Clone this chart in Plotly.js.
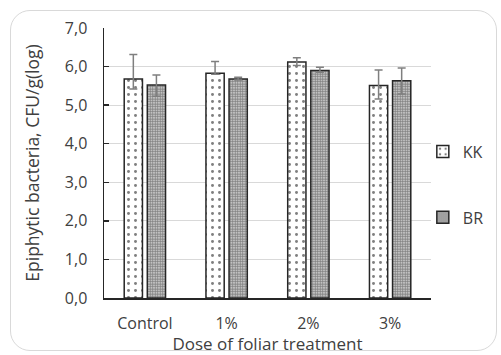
<!DOCTYPE html>
<html>
<head>
<meta charset="utf-8">
<script src="https://cdn.plot.ly/plotly-3.0.1.min.js"></script>
<style>
html,body{margin:0;padding:0;background:#fff;}
#frame{position:absolute;left:10px;top:10px;width:487px;height:341px;border:1px solid #d9d9d9;border-radius:20px;box-sizing:border-box;}
#chart{position:absolute;left:0;top:0;width:501px;height:355px;}
</style>
</head>
<body>
<div id="frame"></div>
<div id="chart"></div>
<script>
const categories = ["Control", "1%", "2%", "3%"];
const seriesNames = ["KK", "BR"];
const kkValues = [5.68, 5.83, 6.12, 5.51];
const kkErrPlus = [0.63, 0.30, 0.11, 0.40];
const kkErrMinus = [0.26, 0.03, 0.09, 0.35];
const brValues = [5.52, 5.68, 5.90, 5.63];
const brErrPlus = [0.26, 0.04, 0.08, 0.33];
const brErrMinus = [0.29, 0.03, 0.05, 0.34];
const yTicks = [0, 1, 2, 3, 4, 5, 6, 7];

const FONT = "Open Sans, sans-serif";
const TXT = "#404040";

function mkTrace(name, y, ep, em, pattern, group) {
  return {
    type: "bar", name: name, x: categories, y: y,
    legendgroup: group,
    marker: {
      color: "#ffffff",
      line: {color: "#262626", width: 1.5},
      pattern: pattern
    },
    error_y: {type: "data", symmetric: false, array: ep, arrayminus: em,
              color: "#7f7f7f", thickness: 1.5, width: 4},
    hoverinfo: "skip"
  };
}

const traces = [
  mkTrace(seriesNames[0], kkValues, kkErrPlus, kkErrMinus,
    {shape: ".", fgcolor: "#000000", bgcolor: "#ffffff", size: 7, solidity: 0.14, fillmode: "overlay"}, "g1"),
  mkTrace(seriesNames[1], brValues, brErrPlus, brErrMinus,
    {shape: ".", fgcolor: "#000000", bgcolor: "#ffffff", size: 2.5, solidity: 0.75, fillmode: "overlay"}, "g2")
];

const layout = {
  width: 501, height: 355,
  margin: {l: 104, r: 63, t: 28, b: 57, pad: 0},
  paper_bgcolor: "rgba(0,0,0,0)",
  plot_bgcolor: "rgba(0,0,0,0)",
  separators: ", ",
  barmode: "group",
  bargap: 0.435,
  bargroupgap: 0.21,
  font: {family: FONT, color: TXT, size: 16},
  showlegend: true,
  legend: {x: 0.975, xanchor: "left", y: 0.42, yanchor: "middle",
           traceorder: "grouped", tracegroupgap: 42,
           font: {family: FONT, size: 16, color: TXT},
           itemwidth: 30, bgcolor: "rgba(0,0,0,0)"},
  xaxis: {
    type: "category",
    showline: true, linecolor: "#262626", linewidth: 1.5,
    ticks: "", showgrid: false,
    ticklabelstandoff: 10,
    tickfont: {family: FONT, size: 16, color: TXT},
    title: {text: "Dose of foliar treatment", font: {family: FONT, size: 17, color: TXT}, standoff: 2},
    fixedrange: true
  },
  yaxis: {
    range: [0, 7], tickvals: yTicks, tickformat: ".1f",
    showline: true, linecolor: "#262626", linewidth: 1.5,
    ticks: "inside", ticklen: 5, tickcolor: "#262626", tickwidth: 1.5,
    showgrid: true, gridcolor: "#d9d9d9", gridwidth: 1,
    zeroline: false,
    ticklabelstandoff: 12,
    tickfont: {family: FONT, size: 16, color: TXT},
    title: {text: "Epiphytic bacteria, CFU/g(log)", font: {family: FONT, size: 17.5, color: TXT}, standoff: 20},
    fixedrange: true
  }
};

Plotly.newPlot("chart", traces, layout, {displayModeBar: false, staticPlot: true});
</script>
</body>
</html>
